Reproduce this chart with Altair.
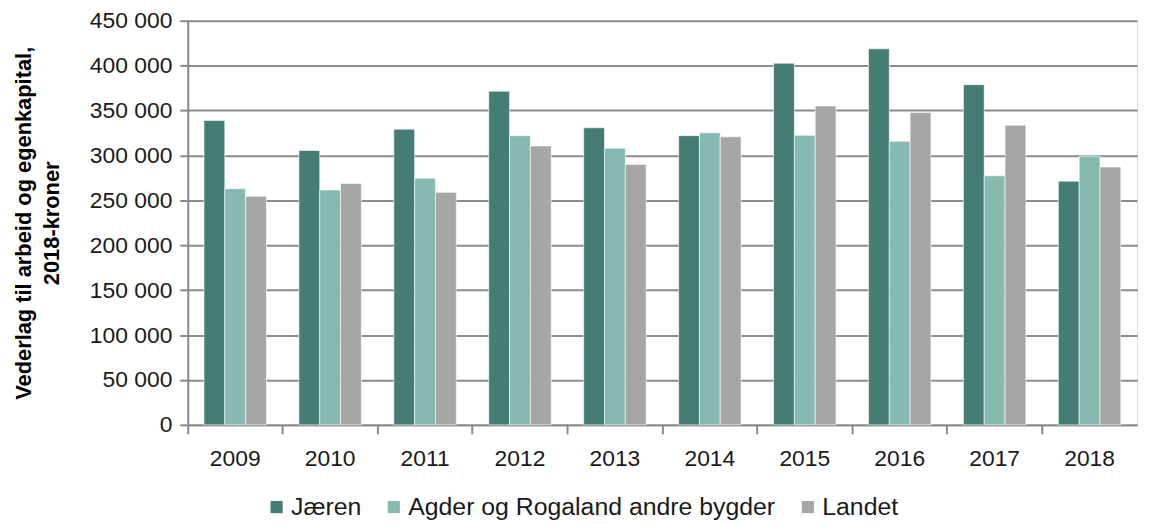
import altair as alt
import pandas as pd

years = ["2009", "2010", "2011", "2012", "2013", "2014", "2015", "2016", "2017", "2018"]
series_names = ["Jæren", "Agder og Rogaland andre bygder", "Landet"]
jaeren = [339000, 305500, 329300, 371500, 330800, 322000, 402700, 418700, 378800, 271400]
agder = [263000, 261500, 274700, 322000, 308000, 325200, 322400, 315800, 277300, 299000]
landet = [254500, 268800, 258900, 310600, 290000, 320800, 355000, 347700, 333700, 287200]
colors = ["#457d74", "#86bab1", "#a6a6a6"]
y_ticks = [0, 50000, 100000, 150000, 200000, 250000, 300000, 350000, 400000, 450000]

rows = []
for name, vals in zip(series_names, [jaeren, agder, landet]):
    for yr, v in zip(years, vals):
        rows.append({"År": yr, "Serie": name, "Verdi": v})
df = pd.DataFrame(rows)

FONT = "Liberation Sans"
FS = 23

chart = alt.Chart(df).mark_bar(stroke="white", strokeWidth=0.6).encode(
    x=alt.X("År:N", sort=years,
            scale=alt.Scale(paddingInner=0, paddingOuter=0),
            axis=alt.Axis(title=None, bandPosition=0, labelAngle=0, labelFontSize=FS,
                          labelFont=FONT, labelColor="#1a1a1a", labelPadding=14,
                          tickSize=9, tickColor="#888888", tickWidth=2,
                          domainColor="#888888", domainWidth=2, grid=False,
                          labelBound=False)),
    xOffset=alt.XOffset("Serie:N", sort=series_names,
                        scale=alt.Scale(paddingInner=0, paddingOuter=0.78)),
    y=alt.Y("Verdi:Q",
            scale=alt.Scale(domain=[0, 450000], nice=False),
            axis=alt.Axis(values=y_ticks,
                          labelExpr="replace(format(datum.value, ','), regexp(',', 'g'), ' ')",
                          labelFontSize=FS, labelFont=FONT, labelColor="#1a1a1a",
                          labelPadding=8, tickSize=8, tickColor="#888888", tickWidth=2,
                          domainColor="#888888", domainWidth=2,
                          gridColor="#8c8c8c", gridWidth=2,
                          title=["Vederlag til arbeid og egenkapital,", "2018-kroner"],
                          titleFont=FONT, titleFontSize=22, titleFontWeight="bold",
                          titleColor="#000000", titlePadding=26, titleLineHeight=28)),
    color=alt.Color("Serie:N", sort=series_names,
                    scale=alt.Scale(domain=series_names, range=colors),
                    legend=alt.Legend(title=None, orient="none", direction="horizontal",
                                      legendX=77, legendY=477,
                                      symbolType="square", symbolSize=150,
                                      symbolStrokeWidth=0, labelLimit=600,
                                      labelFont=FONT, labelFontSize=25, labelColor="#1a1a1a",
                                      columnPadding=20, labelOffset=2)),
).properties(
    width=956,
    height=407,
    autosize=alt.AutoSizeParams(type="none"),
    padding={"left": 181, "top": 11, "right": 6, "bottom": 97},
).configure_view(stroke=None).configure(background="white")

chart.save("out.html", embed_options={"renderer": "svg", "actions": False})
